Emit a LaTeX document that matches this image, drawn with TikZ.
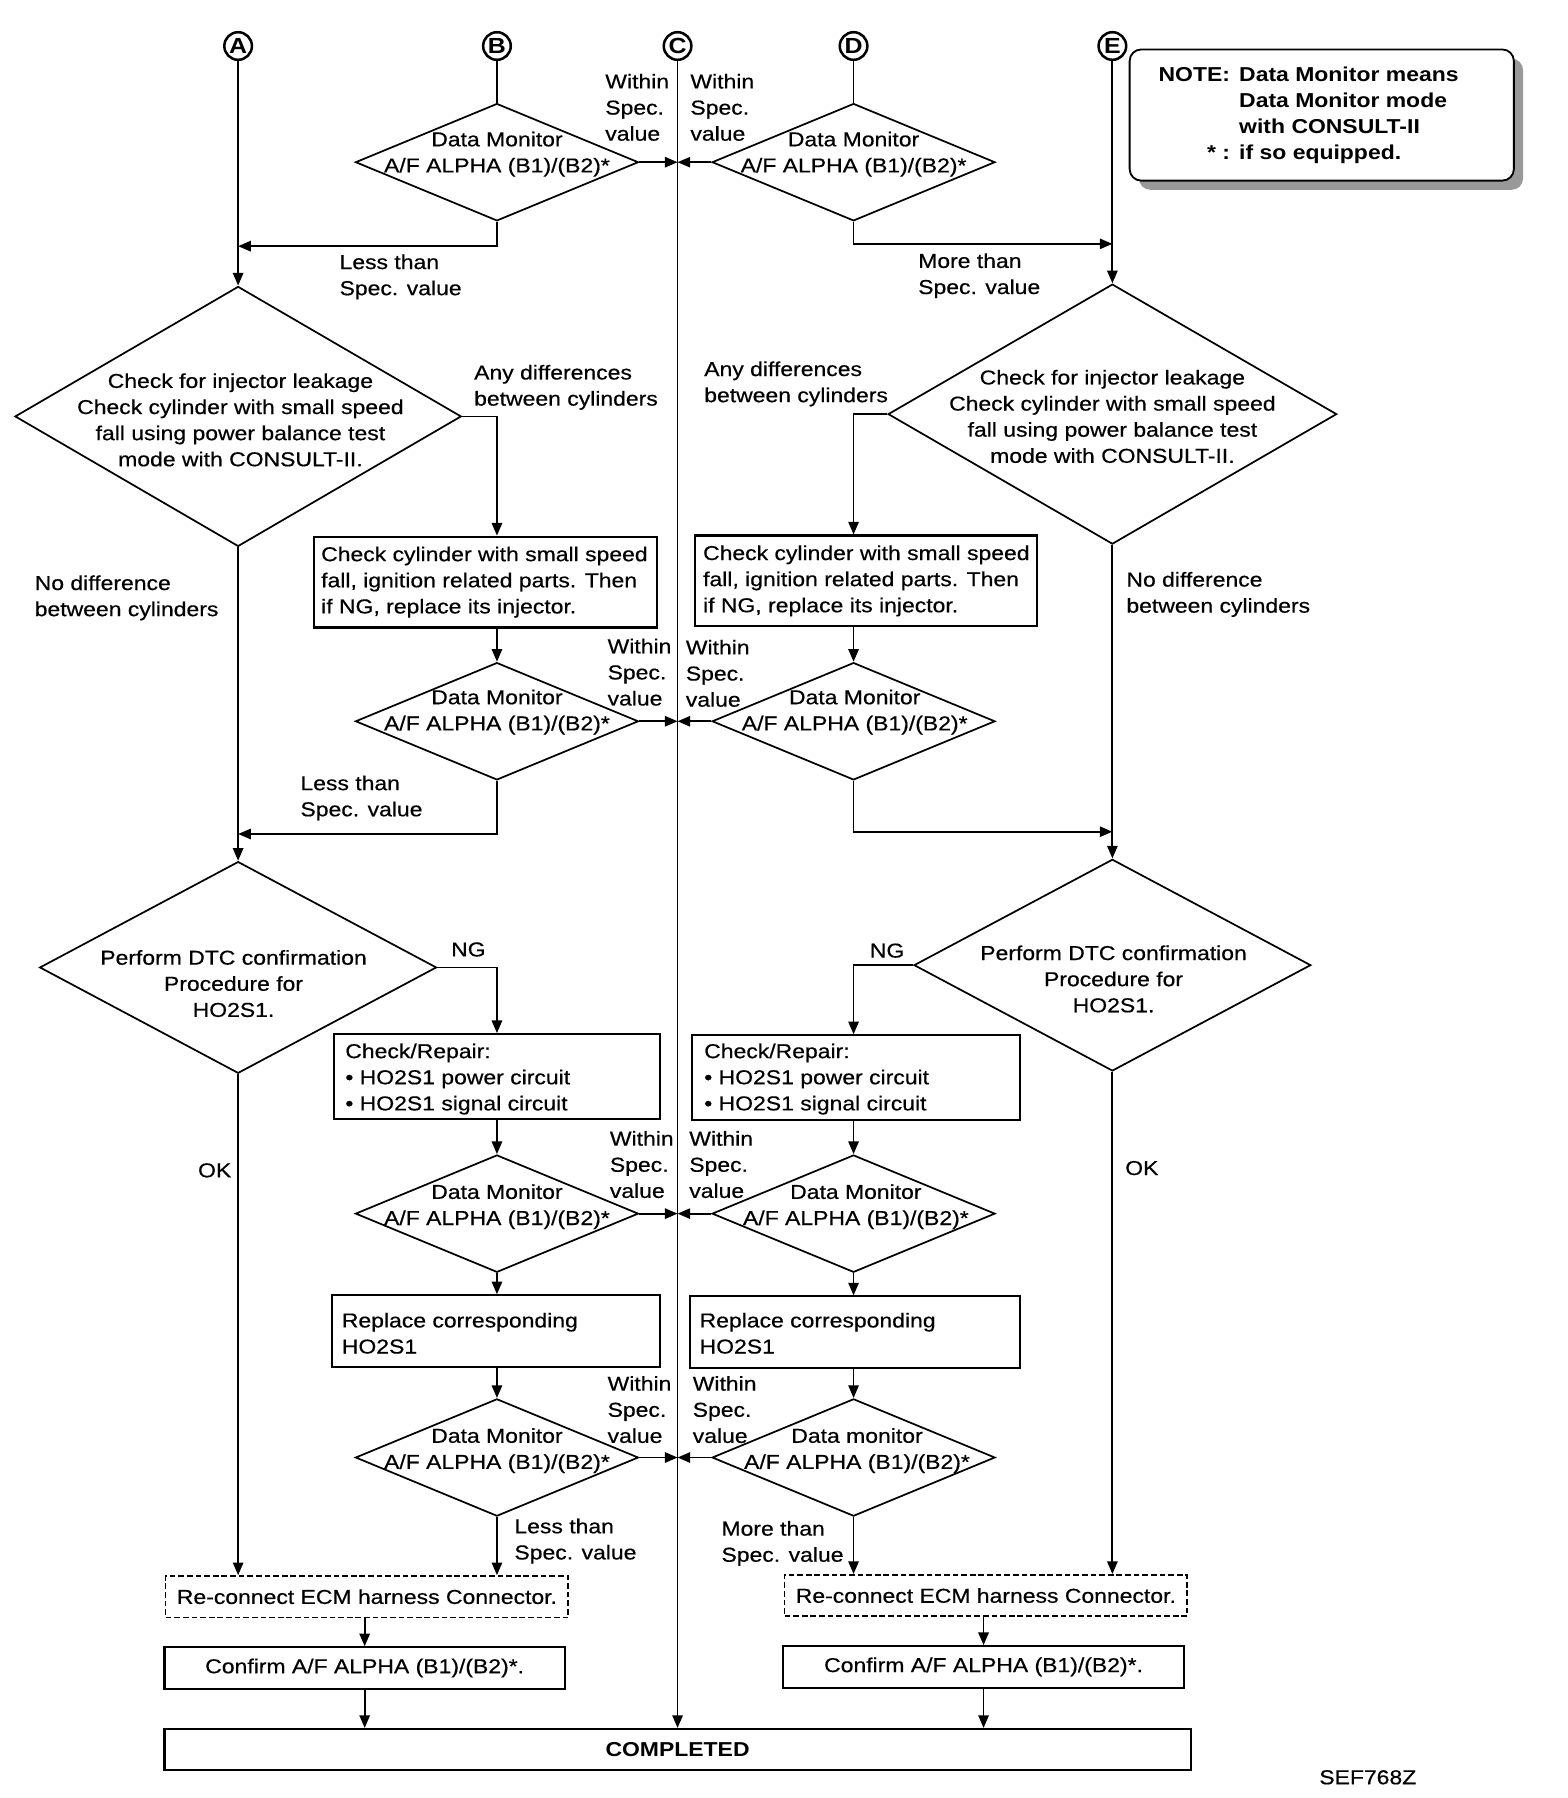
\documentclass[tikz,border=0pt]{standalone}
\usepackage{fontspec}
\setmainfont{Liberation Sans}[FakeStretch=1.14,UprightFeatures={FakeBold=0.5}]
\usetikzlibrary{arrows.meta,shapes.geometric,shadows}

\tikzset{
  every node/.style={font=\fontsize{17.5}{22.7}\selectfont,inner sep=0pt},
  ln/.style={line width=1.6pt},
  arr/.style={line width=1.6pt,-{Triangle[length=11pt,width=9pt]}},
  dia/.style 2 args={diamond,draw,line width=1.5pt,minimum width=#1pt,minimum height=#2pt},
  procbox/.style 2 args={draw,line width=1.8pt,minimum width=#1pt,minimum height=#2pt},
  dashbox/.style={draw,line width=1.4pt,dash pattern=on 5pt off 2.5pt,minimum width=350pt,minimum height=36pt},
  conn/.style={circle,draw,line width=2.2pt,minimum size=24pt,font=\fontsize{19}{19}\selectfont\bfseries},
  lbl/.style={anchor=north west,align=left},
  boxtxt/.style={anchor=west,align=left},
  txt/.style={align=center}
}

\begin{document}
\begin{tikzpicture}[x=1pt,y=-1pt]
\useasboundingbox (0,0) rectangle (1363,1563);

%connectors
\node[conn] (cA) at (207,40) {A};
\node[conn] (cB) at (432,40) {B};
\node[conn] (cC) at (589,40) {C};
\node[conn] (cD) at (742,40) {D};
\node[conn] (cE) at (967,40) {E};

%note
\node[draw,line width=1.6pt,rounded corners=10pt,fill=white,minimum width=334pt,minimum height=114pt,
      drop shadow={shadow xshift=8pt,shadow yshift=-8pt,fill=black!40,opacity=1}] (note) at (1149,100) {};
\node[anchor=west,font=\fontsize{17.5}{22.7}\selectfont\bfseries] (notetxt) at (1007,100)
  {\begin{tabular}{@{}r@{\hspace{8pt}}l@{}}NOTE: & Data Monitor means\\ & Data Monitor mode\\ & with CONSULT-II\\{*} : & if so equipped.\end{tabular}};

%first data monitor
\node[dia={246}{102}] (dB1) at (432,141) {};
\node[txt] (tB1) at (432,134) {Data Monitor\\A/F ALPHA (B1)/(B2)*};
\node[dia={246}{102}] (dD1) at (742,141) {};
\node[txt] (tD1) at (742,134) {Data Monitor\\A/F ALPHA (B1)/(B2)*};
\node[lbl] (wB1) at (526,64) {Within\\Spec.\\value};
\node[lbl] (wD1) at (600,64) {Within\\Spec.\\value};
\node[lbl] (lsB1) at (295,221) {Less than\\Spec. value};
\node[lbl] (mrD1) at (798,220) {More than\\Spec. value};
\coordinate (jA1) at (207,214);
\coordinate (jE1) at (967,212);

%injector leakage
\node[dia={388}{226}] (dL1) at (207,362) {};
\node[txt] (tL1) at (209,365) {Check for injector leakage\\Check cylinder with small speed\\fall using power balance test\\mode with CONSULT-II.};
\node[dia={390}{226}] (dR1) at (967,360) {};
\node[txt] (tR1) at (967,362) {Check for injector leakage\\Check cylinder with small speed\\fall using power balance test\\mode with CONSULT-II.};
\node[lbl] (anyL) at (412,317) {Any differences\\between cylinders};
\node[lbl] (anyR) at (612,314) {Any differences\\between cylinders};
\node[lbl] (noL) at (30,500) {No difference\\between cylinders};
\node[lbl] (noR) at (979,497) {No difference\\between cylinders};

\node[procbox={298}{79}] (bL1) at (422,506) {};
\node[boxtxt] (tbL1) at (279,506) {Check cylinder with small speed\\fall, ignition related parts. Then\\if NG, replace its injector.};
\node[procbox={297}{79}] (bR1) at (753,505) {};
\node[boxtxt] (tbR1) at (611,505) {Check cylinder with small speed\\fall, ignition related parts. Then\\if NG, replace its injector.};

%second data monitor
\node[dia={246}{102}] (dB2) at (432,627) {};
\node[txt] (tB2) at (432,619) {Data Monitor\\A/F ALPHA (B1)/(B2)*};
\node[dia={246}{102}] (dD2) at (742,627) {};
\node[txt] (tD2) at (743,619) {Data Monitor\\A/F ALPHA (B1)/(B2)*};
\node[lbl] (wB2) at (528,555) {Within\\Spec.\\value};
\node[lbl] (wD2) at (596,556) {Within\\Spec.\\value};
\node[lbl] (lsB2) at (261,674) {Less than\\Spec. value};
\coordinate (jA2) at (207,725);
\coordinate (jE2) at (967,723);

%DTC confirmation
\node[dia={345}{184}] (dL2) at (207,841) {};
\node[txt] (tL2) at (203,855) {Perform DTC confirmation\\Procedure for\\HO2S1.};
\node[dia={345}{184}] (dR2) at (967,839) {};
\node[txt] (tR2) at (968,851) {Perform DTC confirmation\\Procedure for\\HO2S1.};
\node[lbl] (ngL) at (392,819) {NG};
\node[lbl] (ngR) at (756,820) {NG};
\node[lbl] (okL) at (172,1011) {OK};
\node[lbl] (okR) at (978,1009) {OK};

\node[procbox={284}{74}] (bL2) at (432,936) {};
\node[boxtxt] (tbL2) at (300,938) {Check/Repair:\\• HO2S1 power circuit\\• HO2S1 signal circuit};
\node[procbox={285}{74}] (bR2) at (744,937) {};
\node[boxtxt] (tbR2) at (612,938) {Check/Repair:\\• HO2S1 power circuit\\• HO2S1 signal circuit};

%third data monitor
\node[dia={246}{102}] (dB3) at (432,1055) {};
\node[txt] (tB3) at (432,1049) {Data Monitor\\A/F ALPHA (B1)/(B2)*};
\node[dia={246}{102}] (dD3) at (742,1055) {};
\node[txt] (tD3) at (744,1049) {Data Monitor\\A/F ALPHA (B1)/(B2)*};
\node[lbl] (wB3) at (530,983) {Within\\Spec.\\value};
\node[lbl] (wD3) at (599,983) {Within\\Spec.\\value};

\node[procbox={285}{62}] (bL3) at (431,1157) {};
\node[boxtxt] (tbL3) at (297,1159) {Replace corresponding\\HO2S1};
\node[procbox={287}{62}] (bR3) at (743,1158) {};
\node[boxtxt] (tbR3) at (608,1159) {Replace corresponding\\HO2S1};

%fourth data monitor
\node[dia={246}{102}] (dB4) at (432,1267) {};
\node[txt] (tB4) at (432,1261) {Data Monitor\\A/F ALPHA (B1)/(B2)*};
\node[dia={246}{102}] (dD4) at (742,1267) {};
\node[txt] (tD4) at (745,1261) {Data monitor\\A/F ALPHA (B1)/(B2)*};
\node[lbl] (wB4) at (528,1196) {Within\\Spec.\\value};
\node[lbl] (wD4) at (602,1196) {Within\\Spec.\\value};
\node[lbl] (lsB4) at (447,1320) {Less than\\Spec. value};
\node[lbl] (mrD4) at (627,1322) {More than\\Spec. value};

%bottom
\node[dashbox] (rL) at (319,1388) {Re-connect ECM harness Connector.};
\node[dashbox] (rR) at (857,1387) {Re-connect ECM harness Connector.};
\node[procbox={348}{36}] (cfL) at (317,1450) {Confirm A/F ALPHA (B1)/(B2)*.};
\node[procbox={349}{36}] (cfR) at (855,1449) {Confirm A/F ALPHA (B1)/(B2)*.};
\node[procbox={892}{36}] (done) at (589,1521) {\bfseries COMPLETED};
\node (sef) at (1189,1545) {SEF768Z};

%top lines
\draw[arr] (cA) -- (dL1.north);
\draw[ln] (cB) -- (dB1.north);
\draw[arr] (cC) -- (cC |- done.north);
\draw[ln] (cD) -- (dD1.north);
\draw[arr] (cE) -- (dR1.north);
\draw[arr] (dB1.east) -- (dB1.east -| cC.center);
\draw[arr] (dD1.west) -- (dD1.west -| cC.center);
\draw[arr] (dB1.south) |- (jA1);
\draw[arr] (dD1.south) |- (jE1);

%leakage branches
\draw[arr] (dL1.east) -| (dB2.north |- bL1.north);
\draw[arr] (dB2.north |- bL1.south) -- (dB2.north);
\draw[arr] (dR1.west) -| (dD2.north |- bR1.north);
\draw[arr] (dD2.north |- bR1.south) -- (dD2.north);
\draw[arr] (dB2.east) -- (dB2.east -| cC.center);
\draw[arr] (dD2.west) -- (dD2.west -| cC.center);
\draw[arr] (dB2.south) |- (jA2);
\draw[arr] (dD2.south) |- (jE2);
\draw[arr] (dL1.south) -- (dL2.north);
\draw[arr] (dR1.south) -- (dR2.north);

%DTC branches
\draw[arr] (dL2.east) -| (dB3.north |- bL2.north);
\draw[arr] (dB3.north |- bL2.south) -- (dB3.north);
\draw[arr] (dR2.west) -| (dD3.north |- bR2.north);
\draw[arr] (dD3.north |- bR2.south) -- (dD3.north);
\draw[arr] (dB3.east) -- (dB3.east -| cC.center);
\draw[arr] (dD3.west) -- (dD3.west -| cC.center);
\draw[arr] (dB3.south) -- (dB3.south |- bL3.north);
\draw[arr] (dD3.south) -- (dD3.south |- bR3.north);
\draw[arr] (dB4.north |- bL3.south) -- (dB4.north);
\draw[arr] (dD4.north |- bR3.south) -- (dD4.north);
\draw[arr] (dB4.east) -- (dB4.east -| cC.center);
\draw[arr] (dD4.west) -- (dD4.west -| cC.center);
\draw[arr] (dB4.south) -- (dB4.south |- rL.north);
\draw[arr] (dD4.south) -- (dD4.south |- rR.north);
\draw[arr] (dL2.south) -- (dL2.south |- rL.north);
\draw[arr] (dR2.south) -- (dR2.south |- rR.north);

%to completed
\draw[arr] (cfL.north |- rL.south) -- (cfL.north);
\draw[arr] (cfL.south) -- (cfL.south |- done.north);
\draw[arr] (cfR.north |- rR.south) -- (cfR.north);
\draw[arr] (cfR.south) -- (cfR.south |- done.north);
\end{tikzpicture}
\end{document}
